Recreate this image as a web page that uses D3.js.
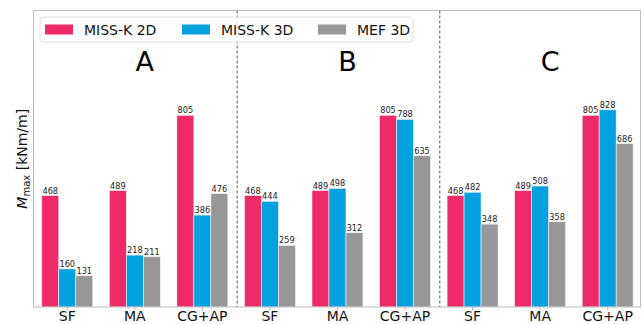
<!DOCTYPE html>
<html>
<head>
<meta charset="utf-8">
<script src="https://cdn.jsdelivr.net/npm/d3@7"></script>
<style>
  body { margin: 0; background: #fff; }
  svg { font-family: "DejaVu Sans", sans-serif; }
</style>
</head>
<body>
<svg width="644" height="324"></svg>
<script>
const svg = d3.select("svg");

// data
const panels = ["A", "B", "C"];
const groups = ["SF", "MA", "CG+AP"];
const series = ["MISS-K 2D", "MISS-K 3D", "MEF 3D"];
const colors = ["#ee2a68", "#03a1e0", "#979799"];
// values per panel, rows = groups, cols = series
const valuesA = [[468, 160, 131], [489, 218, 211], [805, 386, 476]];
const valuesB = [[468, 444, 259], [489, 498, 312], [805, 788, 635]];
const valuesC = [[468, 482, 348], [489, 508, 358], [805, 828, 686]];
const allValues = [valuesA, valuesB, valuesC];

const margin = { left: 33.5, right: 3.5, top: 10.5, bottom: 17 };
const width = 644, height = 324;
const yMax = 1245;

// flatten into one row per bar
const rows = [];
allValues.forEach((panel, p) => {
  panel.forEach((vals, g) => {
    vals.forEach((v, s) => rows.push({ p, g, s, key: p * 3 + g, v }));
  });
});

const x = d3.scaleBand()
  .domain(d3.range(9))
  .range([margin.left, margin.left + 9 * 67.55])
  .padding(0);
const xInner = d3.scaleBand()
  .domain(d3.range(3))
  .range([0, 51])
  .padding(0);
const y = d3.scaleLinear()
  .domain([0, yMax])
  .range([height - margin.bottom, margin.top]);

const right = width - margin.right;
const bottom = height - margin.bottom;

// bars
svg.append("g").selectAll("rect")
  .data(rows)
  .join("rect")
  .attr("x", d => x(d.key) + x.bandwidth() / 2 - 25.5 + xInner(d.s))
  .attr("y", d => y(d.v))
  .attr("width", xInner.bandwidth())
  .attr("height", d => y(0) - y(d.v))
  .attr("fill", d => colors[d.s])
  .attr("stroke", "#f4f4f4")
  .attr("stroke-width", 0.6);

// bar labels
svg.append("g").selectAll("text")
  .data(rows)
  .join("text")
  .attr("x", d => x(d.key) + x.bandwidth() / 2 - 25.5 + xInner(d.s) + xInner.bandwidth() / 2)
  .attr("y", d => y(d.v) - 2)
  .attr("text-anchor", "middle")
  .attr("font-size", 8.2)
  .attr("fill", "#222")
  .text(d => d.v);

// separators
[3, 6].forEach(i => {
  svg.append("line")
    .attr("x1", x(i) + 1).attr("x2", x(i) + 1)
    .attr("y1", margin.top).attr("y2", bottom)
    .attr("stroke", "#444")
    .attr("stroke-width", 0.9)
    .attr("stroke-dasharray", "3,2");
});

// x axis
const xAxis = d3.axisBottom(x)
  .tickSize(3.5)
  .tickFormat(i => groups[i % 3]);
const xAxisG = svg.append("g")
  .attr("transform", `translate(0,${bottom})`)
  .call(xAxis);
xAxisG.select(".domain").remove();
xAxisG.selectAll(".tick line").attr("stroke", "#bbb");
xAxisG.selectAll(".tick text")
  .attr("font-size", 14)
  .attr("font-family", "DejaVu Sans")
  .attr("fill", "#111")
  .attr("dy", "0.75em")
  .attr("y", 3.5);

// axes frame
svg.append("rect")
  .attr("x", margin.left).attr("y", margin.top)
  .attr("width", right - margin.left)
  .attr("height", bottom - margin.top)
  .attr("fill", "none")
  .attr("stroke", "#bdbdbd")
  .attr("stroke-width", 1);

// panel titles
panels.forEach((t, i) => {
  svg.append("text")
    .attr("x", x(i * 3 + 1) + x.bandwidth() / 2 + 10)
    .attr("y", 71)
    .attr("text-anchor", "middle")
    .attr("font-size", 27)
    .attr("fill", "#000")
    .text(t);
});

// y label
const yl = svg.append("text")
  .attr("transform", `translate(27,${(margin.top + bottom) / 2}) rotate(-90)`)
  .attr("text-anchor", "middle")
  .attr("font-size", 14)
  .attr("fill", "#111");
yl.append("tspan").attr("font-style", "italic").text("M");
yl.append("tspan").attr("font-size", 10).attr("dy", 3).text("max");
yl.append("tspan").attr("dy", -3).text(" [kNm/m]");

// legend
const lg = svg.append("g").attr("transform", "translate(40,17)");
lg.append("rect")
  .attr("width", 373).attr("height", 25)
  .attr("rx", 3)
  .attr("fill", "#fff")
  .attr("fill-opacity", 0.8)
  .attr("stroke", "#e0e0e0");
const legendX = [5, 142, 278];
series.forEach((s, i) => {
  lg.append("rect")
    .attr("x", legendX[i]).attr("y", 7.5)
    .attr("width", 28).attr("height", 10)
    .attr("fill", colors[i]);
  lg.append("text")
    .attr("x", legendX[i] + 39).attr("y", 17.5)
    .attr("font-size", 14)
    .attr("fill", "#111")
    .text(s);
});
</script>
</body>
</html>
